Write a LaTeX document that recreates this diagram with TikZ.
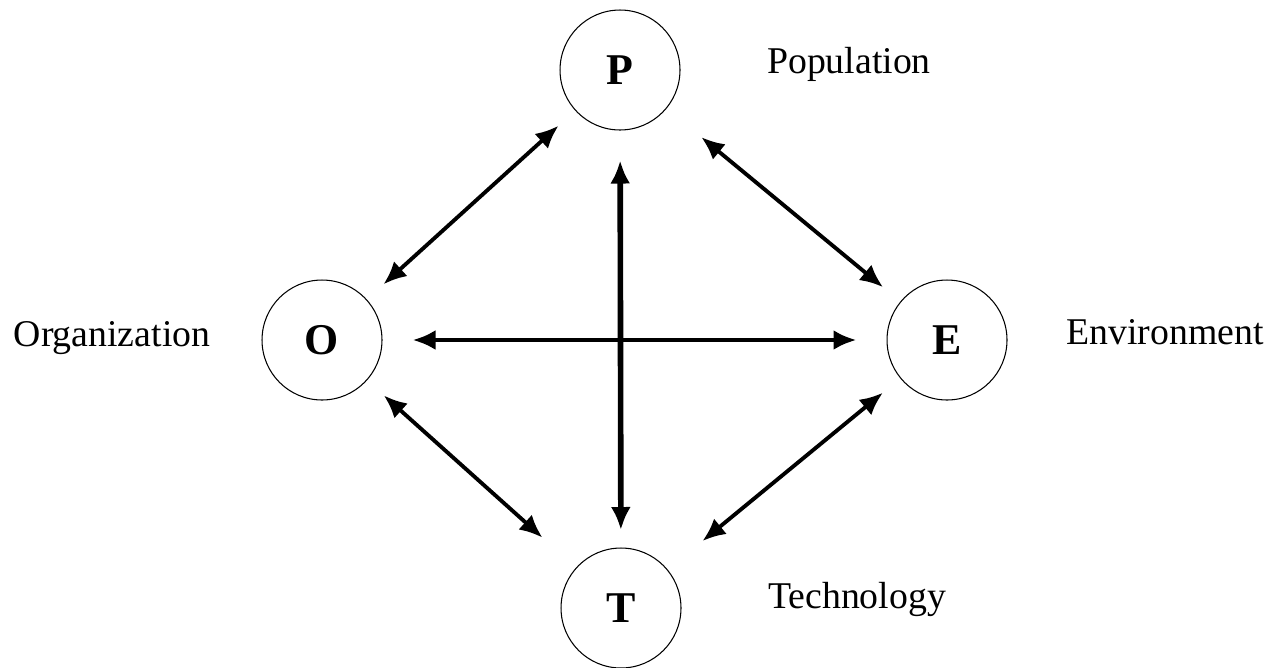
\documentclass[tikz,border=0pt]{standalone}
\usepackage{fontspec}
\setmainfont{Liberation Serif}
\usetikzlibrary{arrows.meta}

\tikzset{
    factor/.style={draw, circle, line width=0.6pt, minimum size=2.4cm, inner sep=0pt,
        font=\fontsize{25}{30}\selectfont\bfseries},
    tag/.style={anchor=base, font=\fontsize{21.5}{26}\selectfont},
    link/.style={{Latex[length=0.46cm, width=0.4cm]}-{Latex[length=0.46cm, width=0.4cm]},
        line width=2.2pt, shorten <=0.45cm, shorten >=0.45cm},
    cross/.style={link, line width=2.6pt, shorten <=0.6cm, shorten >=0.6cm}
}

\begin{document}
\begin{tikzpicture}[x=0.02cm, y=-0.02cm]

    \useasboundingbox (0,0) rectangle (1280,667);

    \node[factor] (P) at (620,70)  {P};
    \node[factor] (O) at (322,340) {O};
    \node[factor] (E) at (947,340) {E};
    \node[factor] (T) at (621,608) {T};

    \node[tag] (popu) at (849,73)  {Population};
    \node[tag] (orga) at (112,346) {Organization};
    \node[tag] (envi) at (1165,344) {Environment};
    \node[tag] (tech) at (857,608) {Technology};

    % the far end of three of them stops further out
    \foreach \a/\b/\gap in {P/O/0.45cm, E/P/0.9cm, O/T/0.9cm, E/T/0.9cm} {
        \draw[link, shorten >=\gap] (\a) -- (\b);
    }

    \draw[cross] (O) -- (E);
    \draw[cross, line width=3.2pt, shorten >=0.35cm] (P) -- (T);

\end{tikzpicture}
\end{document}
